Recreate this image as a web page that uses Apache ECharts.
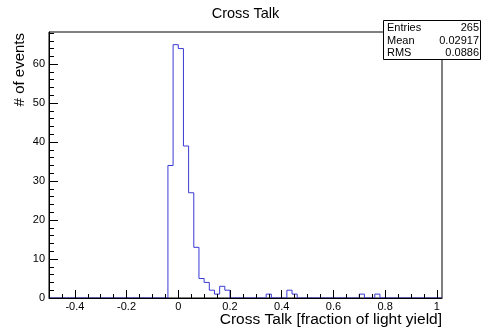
<!DOCTYPE html>
<html>
<head>
<meta charset="utf-8">
<script src="https://cdn.jsdelivr.net/npm/echarts@6/dist/echarts.min.js"></script>
<style>
  html, body { margin: 0; padding: 0; background: #fff; }
  #chart { width: 491px; height: 332px; }
</style>
</head>
<body>
<div id="chart"></div>
<script>
// histogram: 76 bins of 0.02 from -0.5 to 1.02
const xMin = -0.5
const xMax = 1.02
const binWidth = 0.02
const counts = [
  0, 0, 0, 0, 0, 0, 0, 0, 0, 0,
  0, 0, 0, 0, 0, 0, 0, 0, 0, 0,
  0, 0, 0, 34, 65, 64, 39, 27, 13, 5,
  4, 2, 1, 3, 2, 0, 0, 0, 0, 0,
  0, 0, 1, 0, 0, 0, 2, 1, 0, 0,
  0, 0, 0, 0, 0, 0, 0, 0, 0, 0,
  1, 0, 0, 1, 0, 0, 0, 0, 0, 0,
  0, 0, 0, 0, 0, 0
]
const yMax = 68.25

const xMajor = [-0.4, -0.2, 0, 0.2, 0.4, 0.6, 0.8, 1]
const xMinor = [-0.45, -0.35, -0.3, -0.25, -0.15, -0.1, -0.05, 0.05, 0.1, 0.15,
  0.25, 0.3, 0.35, 0.45, 0.5, 0.55, 0.65, 0.7, 0.75, 0.85, 0.9, 0.95]
const yMajor = [0, 10, 20, 30, 40, 50, 60]
const yMinor = [2, 4, 6, 8, 12, 14, 16, 18, 22, 24, 26, 28, 32, 34, 36, 38,
  42, 44, 46, 48, 52, 54, 56, 58, 62, 64, 66, 68]

const statNames = ['Entries', 'Mean', 'RMS']
const statValues = ['265', '0.02917', '0.0886']

const font = "'Liberation Sans', Arial, Helvetica, sans-serif"

// step points at bin low edges, plus closing edge
let stepData = counts.map((c, i) => [+(xMin + i * binWidth).toFixed(2), c])
stepData.push([xMax, 0])

let statsGraphics = [{
  type: 'rect',
  shape: { x: 383.5, y: 20.5, width: 97, height: 39 },
  style: { fill: '#fff', stroke: '#000', lineWidth: 1 },
  z: 100
}]
statNames.forEach((n, i) => {
  statsGraphics.push({
    type: 'text', x: 387, y: 28 + i * 12.5, z: 101,
    style: { text: n, font: '11px ' + font, fill: '#000', verticalAlign: 'middle', align: 'left' }
  })
  statsGraphics.push({
    type: 'text', x: 479, y: 28 + i * 12.5, z: 101,
    style: { text: statValues[i], font: '11px ' + font, fill: '#000', verticalAlign: 'middle', align: 'right' }
  })
})

const option = {
  animation: false,
  backgroundColor: '#fff',
  title: {
    text: 'Cross Talk',
    left: 'center',
    top: 1,
    textStyle: { fontSize: 14.5, fontWeight: 'normal', color: '#000', fontFamily: font }
  },
  grid: {
    left: 49, right: 49, top: 32, bottom: 34,
    show: true, borderColor: '#000', borderWidth: 1, backgroundColor: 'transparent'
  },
  xAxis: [{
    type: 'value', min: xMin, max: xMax, z: 10,
    axisLine: { show: true, onZero: false, lineStyle: { color: '#000' } },
    axisTick: { show: true, inside: true, length: 8, customValues: xMajor, lineStyle: { color: '#000' } },
    axisLabel: { customValues: xMajor, fontSize: 11, color: '#000', fontFamily: font, margin: 3 },
    splitLine: { show: false }
  }, {
    type: 'value', min: xMin, max: xMax, position: 'bottom', z: 10,
    axisLine: { show: false, onZero: false },
    axisTick: { show: true, inside: true, length: 4, customValues: xMinor, lineStyle: { color: '#000' } },
    axisLabel: { show: false },
    splitLine: { show: false }
  }],
  yAxis: [{
    type: 'value', min: 0, max: yMax, z: 10,
    axisLine: { show: true, onZero: false, lineStyle: { color: '#000' } },
    axisTick: { show: true, inside: true, length: 9, customValues: yMajor, lineStyle: { color: '#000' } },
    axisLabel: { customValues: yMajor, fontSize: 11, color: '#000', fontFamily: font, margin: 4 },
    splitLine: { show: false }
  }, {
    type: 'value', min: 0, max: yMax, position: 'left', z: 10,
    axisLine: { show: false, onZero: false },
    axisTick: { show: true, inside: true, length: 5, customValues: yMinor, lineStyle: { color: '#000' } },
    axisLabel: { show: false },
    splitLine: { show: false }
  }],
  series: [{
    type: 'line',
    step: 'end',
    xAxisIndex: 0,
    yAxisIndex: 0,
    data: stepData,
    symbol: 'none',
    z: 2,
    lineStyle: { color: '#3a3ad6', width: 1 }
  }],
  graphic: [{
    type: 'text', x: 442, y: 320, z: 50,
    style: { text: 'Cross Talk [fraction of light yield]', font: '15.5px ' + font, fill: '#000', align: 'right', verticalAlign: 'middle' }
  }, {
    type: 'text', x: 20, y: 33, rotation: Math.PI / 2, z: 50,
    style: { text: '# of events', font: '15px ' + font, fill: '#000', align: 'right', verticalAlign: 'middle' }
  }].concat(statsGraphics)
}

var myChart = echarts.init(document.getElementById('chart'))
myChart.setOption(option)
</script>
</body>
</html>
